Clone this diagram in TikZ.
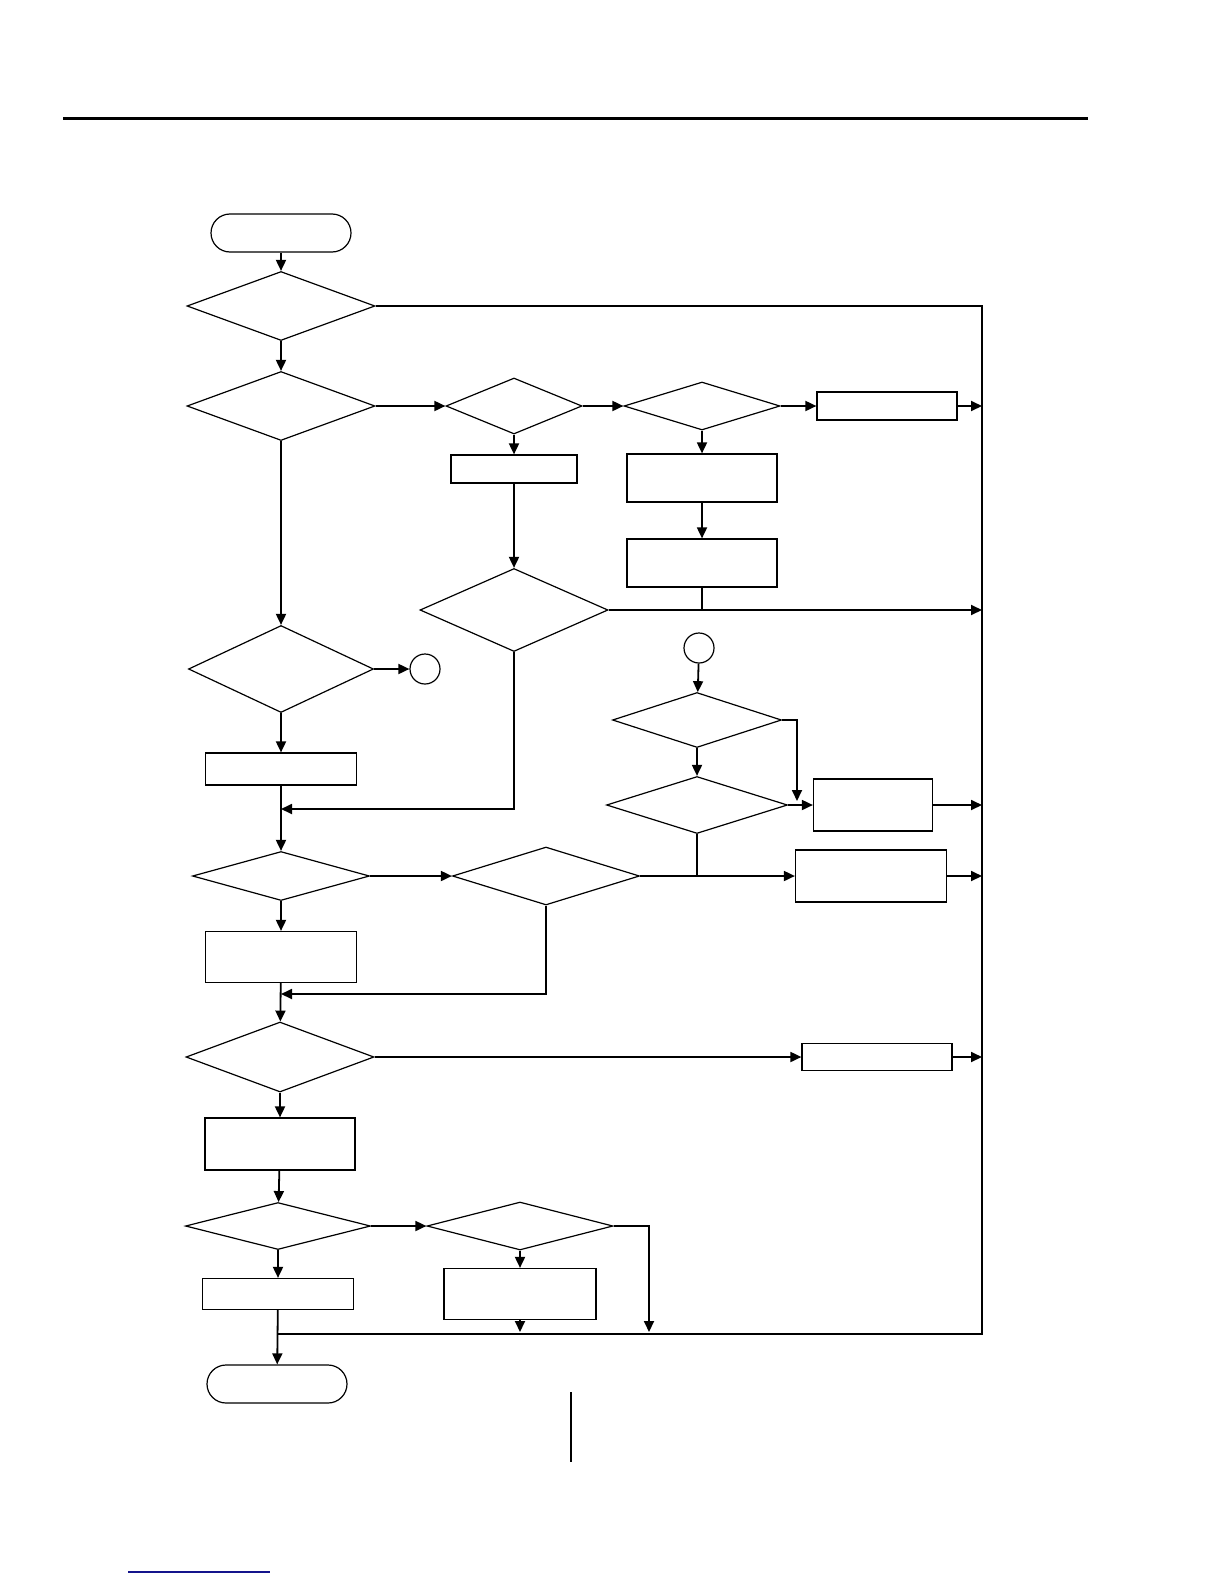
\documentclass[tikz,border=0pt]{standalone}
\usetikzlibrary{shapes.geometric,arrows.meta}
\begin{document}
\begin{tikzpicture}[x=0.5pt,y=-0.5pt,
  shp/.style={draw,line width=0.6pt,inner sep=0pt,fill=white},
  dia/.style={shp,diamond},
  box/.style={shp,rectangle},
  term/.style={shp,rectangle,rounded corners=9.5pt,minimum width=70pt,minimum height=19pt},
  conn/.style={shp,circle,minimum size=15pt},
  ln/.style={line width=0.9pt},
  arr/.style={ln,-{Triangle[length=5.5pt,width=5pt]}}]
\useasboundingbox (0,0) rectangle (1224,1584);
% top rule and bottom marks
\draw[line width=1.5pt] (63,119) -- (1088,119);
\draw[line width=0.6pt] (571,1392) -- (571,1462);
\draw[line width=0.8pt,color={rgb,255:red,20;green,20;blue,140}] (128,1572) -- (270,1572);
% nodes
\node[term] (start) at (281,233) {};
\node[dia,minimum width=94pt,minimum height=34.5pt] (D1) at (281,306) {};
\node[dia,minimum width=94pt,minimum height=34.5pt] (D2) at (281,406) {};
\node[dia,minimum width=68pt,minimum height=28pt] (D3) at (514,406) {};
\node[dia,minimum width=78pt,minimum height=24pt] (D4) at (702,406) {};
\node[box,minimum width=70pt,minimum height=14pt] (B1) at (887,406) {};
\node[box,minimum width=63pt,minimum height=14pt] (B2) at (514,469) {};
\node[box,minimum width=75pt,minimum height=24pt] (B3) at (702,478) {};
\node[box,minimum width=75pt,minimum height=24pt] (B4) at (702,563) {};
\node[dia,minimum width=94pt,minimum height=41.5pt] (D5) at (514,610) {};
\node[dia,minimum width=92.5pt,minimum height=43.5pt] (D6) at (281,669) {};
\node[conn] (C1) at (425,669) {};
\node[conn] (C2) at (699,648) {};
\node[box,minimum width=75.5pt,minimum height=16pt] (B5) at (281,769) {};
\node[dia,minimum width=88.5pt,minimum height=24.5pt] (D7) at (281,876) {};
\node[dia,minimum width=93.5pt,minimum height=29pt] (D8) at (546,876) {};
\node[box,minimum width=75.5pt,minimum height=25.5pt] (B6) at (281,957) {};
\node[dia,minimum width=84.5pt,minimum height=27.5pt] (D10) at (697,720) {};
\node[dia,minimum width=90.5pt,minimum height=28.5pt] (D11) at (697,805) {};
\node[box,minimum width=59.5pt,minimum height=26pt] (B8) at (873,805) {};
\node[box,minimum width=75.5pt,minimum height=26pt] (B7) at (871,876) {};
\node[dia,minimum width=94pt,minimum height=35pt] (D9) at (280,1057) {};
\node[box,minimum width=75pt,minimum height=13.5pt] (B9) at (877,1057) {};
\node[box,minimum width=75pt,minimum height=26pt] (B10) at (280,1144) {};
\node[dia,minimum width=92.5pt,minimum height=23.5pt] (D12) at (278,1226) {};
\node[dia,minimum width=93pt,minimum height=24pt] (D13) at (520,1226) {};
\node[box,minimum width=75.5pt,minimum height=15.5pt] (B11) at (278,1294) {};
\node[box,minimum width=76pt,minimum height=25.5pt] (B12) at (520,1294) {};
\node[term] (end) at (277,1384) {};
% coordinates
\coordinate (rTop) at (982,306);
\coordinate (rB1) at (982,406);
\coordinate (rD5) at (982,610);
\coordinate (rB8) at (982,805);
\coordinate (rB7) at (982,876);
\coordinate (rB9) at (982,1057);
\coordinate (rBot) at (982,1334);
\coordinate (busL) at (278,1334);
\coordinate (j1) at (281,809);
\coordinate (j2) at (281,994);
\coordinate (k1) at (797,801);
\coordinate (k2) at (649,1332);
\coordinate (b12) at (520,1332);
\coordinate (m1) at (702,610);
\coordinate (m2) at (697,876);
% return bus
\draw[ln] (D1.east) -- (rTop) -- (rBot) -- (busL);
% main column
\draw[arr] (start) -- (D1);
\draw[arr] (D1) -- (D2);
\draw[arr] (D2) -- (D6);
\draw[arr] (D6) -- (B5);
\draw[arr] (B5) -- (D7);
\draw[arr] (D7) -- (B6);
\draw[arr] (B6) -- (D9);
\draw[arr] (D9) -- (B10);
\draw[arr] (B10) -- (D12);
\draw[arr] (D12) -- (B11);
\draw[arr] (B11) -- (end);
% top row
\draw[arr] (D2) -- (D3);
\draw[arr] (D3) -- (D4);
\draw[arr] (D4) -- (B1);
\draw[arr] (B1) -- (rB1);
\draw[arr] (D3) -- (B2);
\draw[arr] (B2) -- (D5);
\draw[arr] (D4) -- (B3);
\draw[arr] (B3) -- (B4);
\draw[ln] (B4) -- (m1);
\draw[arr] (D5) -- (rD5);
\draw[arr] (D5.south) |- (j1);
\draw[arr] (D6) -- (C1);
% connector branch
\draw[arr] (C2) -- (D10);
\draw[arr] (D10) -- (D11);
\draw[arr] (D10.east) -| (k1);
\draw[arr] (D11) -- (B8);
\draw[arr] (B8) -- (rB8);
\draw[ln] (D11) -- (m2);
% D7 row
\draw[arr] (D7) -- (D8);
\draw[arr] (D8) -- (B7);
\draw[arr] (B7) -- (rB7);
\draw[arr] (D8.south) |- (j2);
% D9 row
\draw[arr] (D9) -- (B9);
\draw[arr] (B9) -- (rB9);
% bottom row
\draw[arr] (D12) -- (D13);
\draw[arr] (D13) -- (B12);
\draw[arr] (D13.east) -| (k2);
\draw[arr] (B12) -- (b12);
\end{tikzpicture}
\end{document}
